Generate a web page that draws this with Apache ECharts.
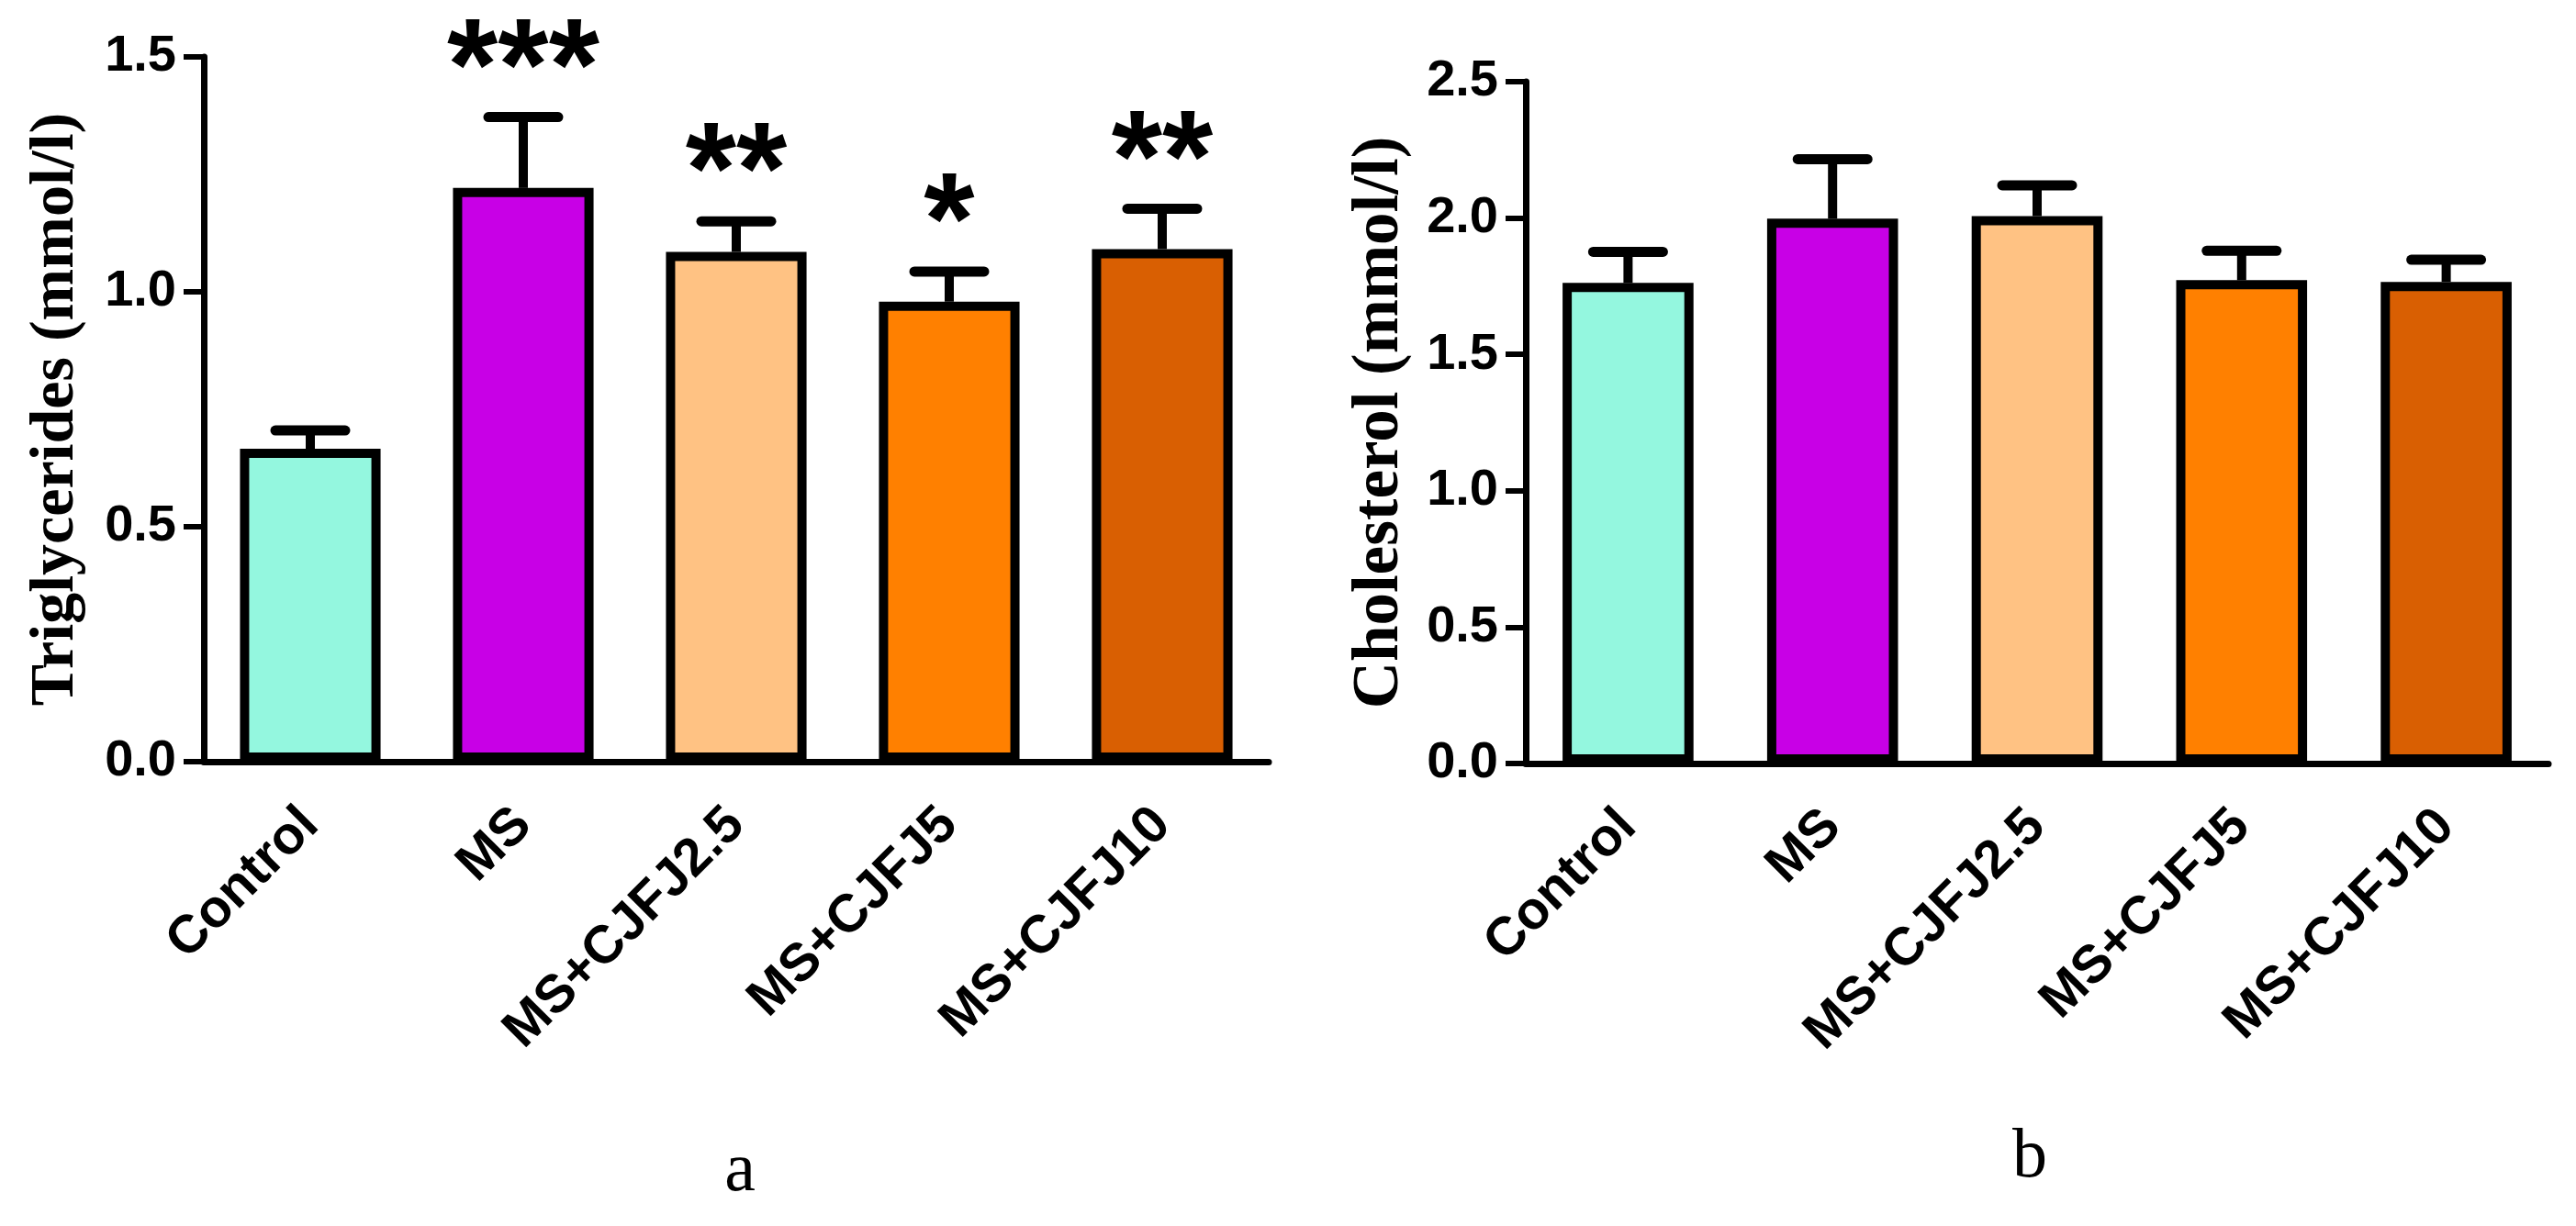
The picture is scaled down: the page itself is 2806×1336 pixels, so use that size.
<!DOCTYPE html>
<html>
<head>
<meta charset="utf-8">
<script src="https://cdn.jsdelivr.net/npm/echarts@6/dist/echarts.min.js"></script>
<style>
  html, body { margin: 0; padding: 0; background: #fff; }
  #chart { width: 2806px; height: 1336px; }
</style>
</head>
<body>
<div id="chart"></div>
<script>
/* global echarts */
const groups = ['Control', 'MS', 'MS+CJFJ2.5', 'MS+CJFJ5', 'MS+CJFJ10'];
const barColors = ['#94F7DF', '#C800E6', '#FFC283', '#FF8000', '#D95F02'];

// panel a: triglycerides
const tgMean = [0.666, 1.221, 1.085, 0.979, 1.091];
const tgErr = [0.039, 0.151, 0.065, 0.064, 0.086];
const tgSig = ['', '***', '**', '*', '**'];

// panel b: cholesterol
const cholMean = [1.762, 1.998, 2.007, 1.772, 1.766];
const cholErr = [0.114, 0.218, 0.113, 0.108, 0.081];
const cholSig = ['', '', '', '', ''];

const sansBold = "'Liberation Sans', Arial, sans-serif";
const serif = "'Liberation Serif', 'Times New Roman', serif";

const chart = echarts.init(document.getElementById('chart'));

const barData = (means) => means.map((v, i) => ({
    value: v,
    itemStyle: { color: barColors[i] }
}));

// upper error whisker + cap + significance stars
const errorRender = (errs, sigs, capHalf) => (params, api) => {
    const i = api.value(0);
    const mean = api.value(1);
    const top = api.coord([i, mean + errs[i]]);
    const base = api.coord([i, mean]);
    const children = [
        { type: 'line', shape: { x1: base[0], y1: base[1], x2: top[0], y2: top[1] }, style: { stroke: '#000', lineWidth: 10 } },
        { type: 'line', shape: { x1: top[0] - capHalf, y1: top[1], x2: top[0] + capHalf, y2: top[1] }, style: { stroke: '#000', lineWidth: 11, lineCap: 'round' } }
    ];
    if (sigs[i]) {
        children.push({
            type: 'text',
            style: {
                text: sigs[i], x: top[0], y: top[1] - 48,
                font: 'bold 142px ' + sansBold, fill: '#000',
                align: 'center', verticalAlign: 'middle'
            }
        });
    }
    return { type: 'group', children };
};

const xAxisCommon = {
    type: 'category',
    data: groups,
    axisLine: { lineStyle: { color: '#000', width: 7 } },
    axisTick: { alignWithLabel: true, length: 24, lineStyle: { color: '#000', width: 6 } },
    axisLabel: {
        rotate: 45, margin: 60, padding: [46, 0, 0, 0], color: '#000',
        fontFamily: sansBold, fontWeight: 'bold', fontSize: 58
    }
};

const yAxisCommon = {
    type: 'value',
    min: 0,
    interval: 0.5,
    nameLocation: 'middle',
    nameTextStyle: { fontFamily: serif, fontWeight: 'bold', color: '#000' },
    axisLine: { show: true, lineStyle: { color: '#000', width: 7 } },
    axisTick: { show: true, length: 22, lineStyle: { color: '#000', width: 6 } },
    splitLine: { show: false },
    axisLabel: {
        margin: 30, color: '#000', fontFamily: sansBold, fontWeight: 'bold', fontSize: 56,
        formatter: (v) => v.toFixed(1)
    }
};

const option = {
    backgroundColor: '#fff',
    animation: false,
    grid: [
        { left: 222, top: 62, width: 1160, height: 768 },
        { left: 1662, top: 89, width: 1114, height: 743 }
    ],
    xAxis: [
        Object.assign({ gridIndex: 0 }, xAxisCommon),
        Object.assign({ gridIndex: 1 }, xAxisCommon)
    ],
    yAxis: [
        Object.assign({}, yAxisCommon, {
            gridIndex: 0, max: 1.5, name: 'Triglycerides (mmol/l)', nameGap: 127,
            nameTextStyle: Object.assign({}, yAxisCommon.nameTextStyle, { fontSize: 68 })
        }),
        Object.assign({}, yAxisCommon, {
            gridIndex: 1, max: 2.5, name: 'Cholesterol (mmol/l)', nameGap: 123,
            nameTextStyle: Object.assign({}, yAxisCommon.nameTextStyle, { fontSize: 71 })
        })
    ],
    series: [
        {
            type: 'bar', xAxisIndex: 0, yAxisIndex: 0,
            barCategoryGap: '34%',
            itemStyle: { borderColor: '#000', borderWidth: 10 },
            data: barData(tgMean)
        },
        {
            type: 'bar', xAxisIndex: 1, yAxisIndex: 1,
            barCategoryGap: '36%',
            itemStyle: { borderColor: '#000', borderWidth: 10 },
            data: barData(cholMean)
        },
        {
            type: 'custom', xAxisIndex: 0, yAxisIndex: 0, z: 3,
            renderItem: errorRender(tgErr, tgSig, 38),
            data: tgMean.map((v, i) => [i, v])
        },
        {
            type: 'custom', xAxisIndex: 1, yAxisIndex: 1, z: 3,
            renderItem: errorRender(cholErr, cholSig, 38),
            data: cholMean.map((v, i) => [i, v])
        }
    ],
    graphic: [
        { type: 'text', x: 806, y: 1315, style: { text: 'a', font: '76px ' + serif, fill: '#000', align: 'center', verticalAlign: 'bottom' } },
        { type: 'text', x: 2211, y: 1300, style: { text: 'b', font: '76px ' + serif, fill: '#000', align: 'center', verticalAlign: 'bottom' } }
    ]
};

chart.setOption(option);
</script>
</body>
</html>
